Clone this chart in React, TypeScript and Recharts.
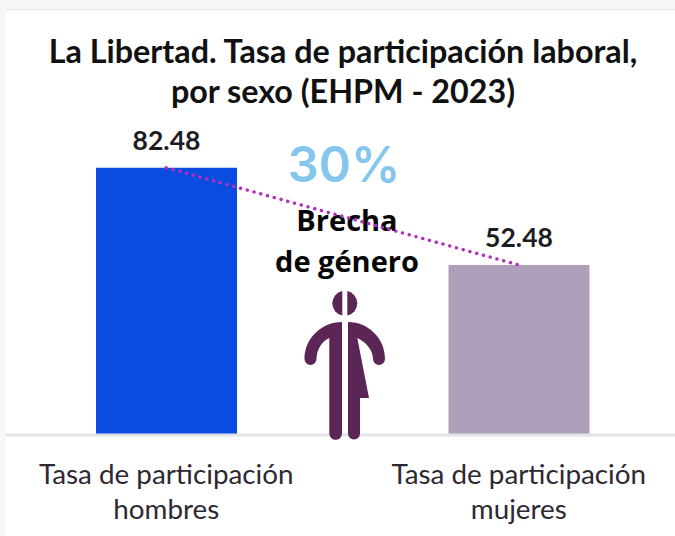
import { ComposedChart, Bar, Line, XAxis, YAxis, Cell, LabelList } from "recharts"

const categories = ["Tasa de participación hombres", "Tasa de participación mujeres"]
const rates = [82.48, 52.48]
const barColors = ["#0a4be0", "#ae9fba"]
const titleLines = ["La Libertad. Tasa de participación laboral,", "por sexo (EHPM - 2023)"]
const gapLines = ["Brecha", "de género"]
const gapValue = "30%"

const data = categories.map((name, i) => ({ name, rate: rates[i] }))

const FONT = "Lato, sans-serif"
const ICON = "#5b2556"

// two line axis label, breaks before the last word
function CategoryTick({ x, y, payload }: any) {
  const words = String(payload.value).split(" ")
  const last = words.pop()
  return (
    <text x={x} textAnchor="middle" fontFamily={FONT} fontSize={27.8} fill="#2e2833">
      <tspan x={x} y={y + 41}>{words.join(" ")}</tspan>
      <tspan x={x} y={y + 76}>{last}</tspan>
    </text>
  )
}

// half man / half woman pictogram, sits above the axis line
function GapIcon() {
  return (
    <svg width={675} height={536} style={{ position: "absolute", left: 0, top: 0 }}>
      <g fill={ICON}>
        <path d="M342.3 291.05 A12.5 12.5 0 0 0 342.3 315.55 Z" />
        <path d="M347.3 291.05 A12.5 12.5 0 0 1 347.3 315.55 Z" />
        <path d="M342 322 L342 433.5 A6.35 6.35 0 0 1 329.3 433.5 L329.3 338 C322 341 316.5 350 316.5 359 A6 6 0 0 1 304.5 359 C304.5 338 322 322 342 322 Z" />
        <path d="M348 322 C368 322 385 338 385 359 A6 6 0 0 1 373 359 C373 350 366 342 357.3 338 L369 398 L360 398 L360 433.5 A6 6 0 0 1 348 433.5 Z" />
      </g>
    </svg>
  )
}

export default function App() {
  return (
    <div style={{ position: "absolute", left: 0, top: 0, width: 675, height: 536, background: "#f9f6f9", overflow: "hidden" }}>
      <div style={{ position: "absolute", left: 6, top: 9, width: 669, height: 527, background: "#fff", overflow: "hidden", boxShadow: "inset 0 2px 1px -1px #dbe2e9" }}>
        <div style={{ position: "absolute", left: -6, top: -9 }}>
          <ComposedChart width={675} height={536} data={data} margin={{ top: 111, right: -20, bottom: 0, left: -10 }}>
            <XAxis
              dataKey="name"
              height={101}
              interval={0}
              tickLine={false}
              axisLine={{ stroke: "#e1e3e8", strokeWidth: 3 }}
              tick={<CategoryTick />}
            />
            <YAxis hide domain={[0, 100]} />
            <Bar dataKey="rate" barSize={141} isAnimationActive={false}>
              {data.map((d, i) => (
                <Cell key={d.name} fill={barColors[i]} />
              ))}
              <LabelList
                dataKey="rate"
                position="top"
                offset={18}
                fill="#1c1c22"
                fontFamily={FONT}
                fontSize={26.5}
                fontWeight={700}
              />
            </Bar>
            <Line
              dataKey="rate"
              stroke="#b52fbd"
              strokeWidth={3.4}
              strokeLinecap="round"
              strokeDasharray="0.1 6.9"
              dot={false}
              isAnimationActive={false}
            />
            <text textAnchor="middle" fontFamily={FONT} fontSize={32.3} fontWeight={700} fill="#111">
              <tspan x={343} y={63}>{titleLines[0]}</tspan>
              <tspan x={343} y={103}>{titleLines[1]}</tspan>
            </text>
            <text x={344} y={182} textAnchor="middle" fontFamily="Inter, sans-serif" fontSize={49} fontWeight={600} fill="#85c6ec">
              {gapValue}
            </text>
            <text textAnchor="middle" fontFamily="'Open Sans', sans-serif" fontSize={29} fontWeight={700} fill="#050505">
              <tspan x={347} y={231}>{gapLines[0]}</tspan>
              <tspan x={347} y={272}>{gapLines[1]}</tspan>
            </text>
          </ComposedChart>
          <GapIcon />
        </div>
      </div>
    </div>
  )
}
